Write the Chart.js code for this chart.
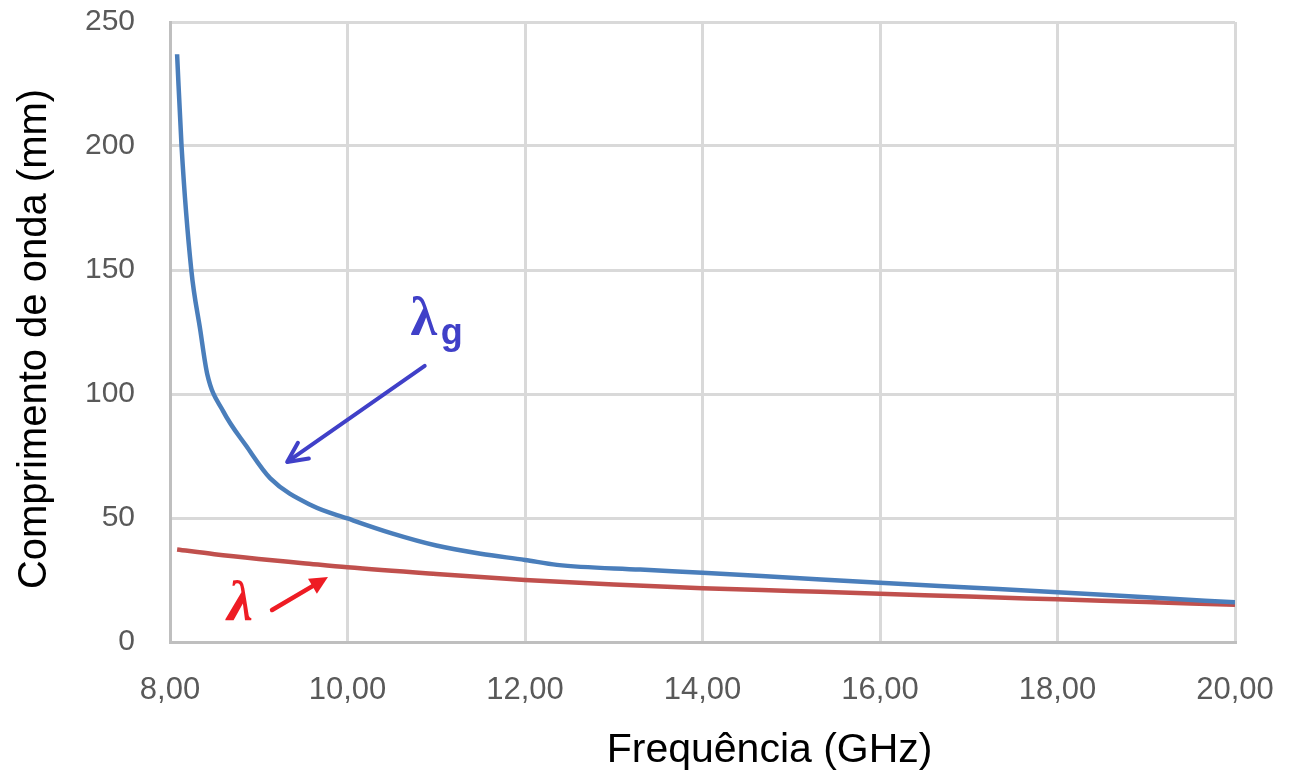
<!DOCTYPE html>
<html>
<head>
<meta charset="utf-8">
<script src="https://cdn.jsdelivr.net/npm/chart.js@4.4.1/dist/chart.umd.min.js"></script>
<style>
html,body{margin:0;padding:0;background:#fff;}
#wrap{width:1289px;height:775px;position:relative;}
</style>
</head>
<body>
<div id="wrap"><canvas id="c" width="1289" height="775"></canvas></div>
<script>
// Data
const blueFreq = [8.08, 8.13, 8.24, 8.34, 8.42, 8.6, 8.86, 9.13, 9.61, 10.0, 10.5, 11.0, 11.5, 12.0, 12.36, 13.3, 14, 15, 16, 17, 18, 19, 20];
const blueWave = [237, 200, 150, 126, 108, 93, 79, 66, 54.8, 49.8, 43.8, 38.9, 35.6, 33.1, 31.1, 29.2, 27.9, 25.9, 23.9, 22.0, 20.1, 18.0, 16.0];
const redFreq  = [8.08, 8.5, 9, 9.5, 10, 11, 12, 13, 14, 15, 16, 17, 18, 19, 20];
const redWave  = [37.3, 35.4, 33.5, 31.8, 30.1, 27.4, 25.0, 23.2, 21.7, 20.6, 19.5, 18.3, 17.2, 16.1, 15.0];
const xTicks = [8, 10, 12, 14, 16, 18, 20];
const yTicks = [0, 50, 100, 150, 200, 250];
const xTitle = 'Frequência (GHz)';
const yTitle = 'Comprimento de onda (mm)';
// annotation anchors in data units
const lgLabel = {x: 10.86, y: 129.5};
const lgArrow = {from: [10.87, 111.3], to: [9.32, 72.6]};
const lLabel = {x: 8.79, y: 15.0};
const lArrow = {from: [9.15, 12.9], to: [9.78, 26.2]};

const toPts = (xs, ys) => xs.map((x, i) => ({x: x, y: ys[i]}));

function arrow(ctx, x1, y1, x2, y2, color, w, head, filled) {
  const a = Math.atan2(y2 - y1, x2 - x1);
  ctx.save();
  ctx.strokeStyle = color; ctx.fillStyle = color; ctx.lineWidth = w; ctx.lineCap = 'round'; ctx.lineJoin = 'round';
  ctx.beginPath();
  ctx.moveTo(x1, y1);
  ctx.lineTo(x2 - Math.cos(a) * (filled ? head * 0.6 : 1), y2 - Math.sin(a) * (filled ? head * 0.6 : 1));
  ctx.stroke();
  const p1 = [x2 - head * Math.cos(a - 0.45), y2 - head * Math.sin(a - 0.45)];
  const p2 = [x2 - head * Math.cos(a + 0.45), y2 - head * Math.sin(a + 0.45)];
  ctx.beginPath();
  if (filled) {
    ctx.moveTo(x2, y2); ctx.lineTo(p1[0], p1[1]); ctx.lineTo(p2[0], p2[1]); ctx.closePath(); ctx.fill();
  } else {
    ctx.moveTo(p1[0], p1[1]); ctx.lineTo(x2, y2); ctx.lineTo(p2[0], p2[1]); ctx.stroke();
  }
  ctx.restore();
}

const deco = {
  id: 'deco',
  afterDraw(chart) {
    const ctx = chart.ctx, xs = chart.scales.x, ys = chart.scales.y, ca = chart.chartArea;
    ctx.save();
    // axis titles
    ctx.fillStyle = '#000';
    ctx.textAlign = 'center'; ctx.textBaseline = 'middle';
    ctx.font = '41px "Liberation Sans", Arial, sans-serif';
    ctx.fillText(xTitle, ca.left + (ca.right - ca.left) * 0.563, 751);
    ctx.save();
    ctx.translate(35, (ca.top + ca.bottom) / 2 + 7);
    ctx.rotate(-Math.PI / 2);
    ctx.font = '40px "Liberation Sans", Arial, sans-serif';
    ctx.fillText(yTitle, 0, 0);
    ctx.restore();
    // lambda_g label
    const bx = xs.getPixelForValue(lgLabel.x), by = ys.getPixelForValue(lgLabel.y);
    ctx.fillStyle = '#4040c8';
    ctx.font = 'bold 54px "Liberation Serif", "DejaVu Serif", serif';
    ctx.textAlign = 'center'; ctx.textBaseline = 'middle';
    ctx.fillText('λ', bx, by);
    ctx.font = 'bold 36px "Liberation Sans", Arial, sans-serif';
    ctx.textAlign = 'left';
    ctx.fillText('g', bx + 17, by + 13);
    arrow(ctx, xs.getPixelForValue(lgArrow.from[0]), ys.getPixelForValue(lgArrow.from[1]),
          xs.getPixelForValue(lgArrow.to[0]), ys.getPixelForValue(lgArrow.to[1]), '#4040c8', 4, 22, false);
    // lambda label
    const rx = xs.getPixelForValue(lLabel.x), ry = ys.getPixelForValue(lLabel.y);
    ctx.fillStyle = '#ee1c24';
    ctx.font = 'bold italic 58px "Liberation Serif", "DejaVu Serif", serif';
    ctx.textAlign = 'center';
    ctx.fillText('λ', rx, ry);
    arrow(ctx, xs.getPixelForValue(lArrow.from[0]), ys.getPixelForValue(lArrow.from[1]),
          xs.getPixelForValue(lArrow.to[0]), ys.getPixelForValue(lArrow.to[1]), '#ee1c24', 4.5, 20, true);
    ctx.restore();
  }
};

new Chart(document.getElementById('c'), {
  type: 'scatter',
  data: {
    datasets: [
      {label: 'λg', data: toPts(blueFreq, blueWave), showLine: true, borderColor: '#4a7ebb', borderWidth: 4.5,
       pointRadius: 0, cubicInterpolationMode: 'monotone', fill: false},
      {label: 'λ', data: toPts(redFreq, redWave), showLine: true, borderColor: '#c0504d', borderWidth: 4.5,
       pointRadius: 0, cubicInterpolationMode: 'monotone', fill: false}
    ]
  },
  options: {
    responsive: false,
    animation: false,
    layout: {padding: {top: 22, right: 54, left: 0, bottom: 0}},
    plugins: {legend: {display: false}, tooltip: {enabled: false}},
    scales: {
      x: {
        type: 'linear', min: 8, max: 20,
        afterBuildTicks: s => { s.ticks = xTicks.map(v => ({value: v})); },
        afterFit: s => { s.height = 133; s.paddingLeft = 0; s.paddingRight = 0; },
        grid: {color: '#d9d9d9', lineWidth: 3, drawTicks: false},
        border: {color: '#bfbfbf', width: 3},
        ticks: {padding: 30, color: '#595959', font: {family: '"Liberation Sans", Arial, sans-serif', size: 31},
                callback: v => v.toFixed(2).replace('.', ','), maxRotation: 0}
      },
      y: {
        type: 'linear', min: 0, max: 250,
        afterBuildTicks: s => { s.ticks = yTicks.map(v => ({value: v})); },
        afterFit: s => { s.width = 170; s.paddingTop = 0; s.paddingBottom = 0; },
        grid: {color: '#d9d9d9', lineWidth: 3, drawTicks: false},
        border: {color: '#bfbfbf', width: 3},
        ticks: {padding: 35, color: '#595959', font: {family: '"Liberation Sans", Arial, sans-serif', size: 30}}
      }
    }
  },
  plugins: [deco]
});
</script>
</body>
</html>
